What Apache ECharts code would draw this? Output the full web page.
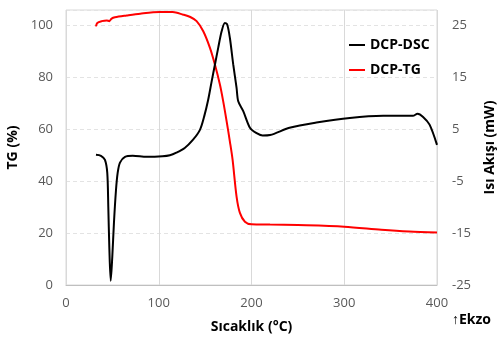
<!DOCTYPE html>
<html>
<head>
<meta charset="utf-8">
<script src="https://cdn.jsdelivr.net/npm/echarts@6/dist/echarts.min.js"></script>
<style>
  html, body { margin: 0; padding: 0; background: #fff; }
  #chart { width: 501px; height: 338px; }
</style>
</head>
<body>
<div id="chart"></div>
<script>
// Thermogravimetric curve: temperature (°C) and mass (%)
var tgTemp = [32.3, 33.7, 38.5, 43.9, 46.7, 49.2, 52.8, 65.4, 80, 101, 115, 126.4, 134, 140.8, 148, 155.2, 160.6, 166, 169.5, 173.2, 176.7, 179.6, 183.9, 187.5, 192.9, 200, 220, 250, 300, 340, 370, 400];
var tgValue = [99.7, 101.0, 101.7, 102.0, 101.7, 102.7, 103.2, 103.9, 104.6, 105.2, 105.2, 104.2, 103.3, 101.7, 97.8, 91.4, 84.9, 77.2, 70.8, 63.1, 55.3, 48.3, 34.1, 27.8, 24.4, 23.4, 23.3, 23.1, 22.5, 21.3, 20.6, 20.2];

// DSC heat flow: temperature (°C) and heat flow (mW)
var dscTemp = [32.3, 37.7, 42, 44.5, 45.6, 46.7, 48.2, 49.9, 51.7, 53.9, 55.7, 58.2, 63.6, 72, 87, 104, 112, 119, 128, 137, 144.4, 149, 153.3, 157, 160.6, 164.1, 167.8, 171.3, 173.8, 176.7, 180.3, 183.9, 185.7, 191.1, 198.3, 205, 212, 220, 241, 270, 306, 342, 374, 379, 385, 392, 400];
var dscValue = [0.1, -0.1, -0.9, -3.4, -9.9, -17.7, -24.2, -19.6, -13.0, -6.7, -3.4, -1.4, -0.3, -0.1, -0.3, -0.2, 0.0, 0.5, 1.4, 3.0, 4.9, 7.5, 10.7, 14.2, 17.5, 20.7, 23.9, 25.5, 25.2, 22.6, 17.5, 13.0, 10.4, 8.5, 5.3, 4.3, 3.8, 3.9, 5.3, 6.3, 7.2, 7.6, 7.6, 8.0, 7.4, 5.9, 2.0];

var seriesNames = ['DCP-DSC', 'DCP-TG'];

function pairs(xs, ys) {
  return xs.map(function (x, i) { return [x, ys[i]]; });
}

var labelFont = { color: '#595959', fontSize: 13, fontFamily: 'Open Sans' };
var titleFont = { color: '#000', fontSize: 14, fontWeight: 'bold', fontFamily: 'Open Sans' };

var chart = echarts.init(document.getElementById('chart'), null, { renderer: 'canvas' });
chart.setOption({
  animation: false,
  backgroundColor: '#fff',
  grid: {
    left: 66, right: 64, top: 10, bottom: 53,
    containLabel: false, outerBoundsMode: 'none',
    show: true, borderColor: '#d9d9d9', borderWidth: 1
  },
  legend: {
    orient: 'vertical',
    left: 344, top: 33,
    icon: 'rect',
    itemWidth: 16, itemHeight: 2, itemGap: 11,
    textStyle: { color: '#000', fontSize: 14, fontWeight: 'bold', fontFamily: 'Open Sans', lineHeight: 14 },
    data: seriesNames
  },
  xAxis: {
    type: 'value', min: 0, max: 400, interval: 100,
    name: 'Sıcaklık (°C)', nameLocation: 'middle', nameGap: 35,
    nameTextStyle: titleFont,
    axisLine: { show: true, lineStyle: { color: '#bfbfbf', width: 1 } },
    axisTick: { show: false },
    axisLabel: Object.assign({ margin: 12 }, labelFont),
    splitLine: { show: true, lineStyle: { color: '#d9d9d9', width: 1 } }
  },
  yAxis: [
    {
      type: 'value', min: 0, max: 106, interval: 20,
      name: 'TG (%)', nameLocation: 'middle', nameGap: 39, nameRotate: 90,
      nameTextStyle: titleFont,
      axisLine: { show: false }, axisTick: { show: false },
      axisLabel: Object.assign({ margin: 13, showMaxLabel: false }, labelFont),
      splitLine: { show: true, lineStyle: { color: '#e3e3e3', width: 1, type: [4, 3] } }
    },
    {
      type: 'value', min: -25, max: 28, interval: 10, position: 'right',
      name: 'Isı Akışı (mW)', nameLocation: 'middle', nameGap: 46, nameRotate: 90,
      nameTextStyle: titleFont,
      axisLine: { show: false }, axisTick: { show: false },
      axisLabel: Object.assign({ margin: 15, showMaxLabel: false }, labelFont),
      splitLine: { show: false }
    }
  ],
  series: [
    {
      name: seriesNames[0], type: 'line', yAxisIndex: 1,
      data: pairs(dscTemp, dscValue),
      symbol: 'none', smooth: 0.3,
      lineStyle: { color: '#000', width: 2 }, itemStyle: { color: '#000' }, z: 3
    },
    {
      name: seriesNames[1], type: 'line', yAxisIndex: 0,
      data: pairs(tgTemp, tgValue),
      symbol: 'none', smooth: 0.3,
      lineStyle: { color: '#ff0000', width: 2 }, itemStyle: { color: '#ff0000' }, z: 2
    }
  ],
  graphic: [
    {
      type: 'text', left: 452, top: 313,
      style: { text: '↑Ekzo', fill: '#000', font: 'bold 14px "Open Sans"' }
    }
  ]
});
</script>
</body>
</html>
